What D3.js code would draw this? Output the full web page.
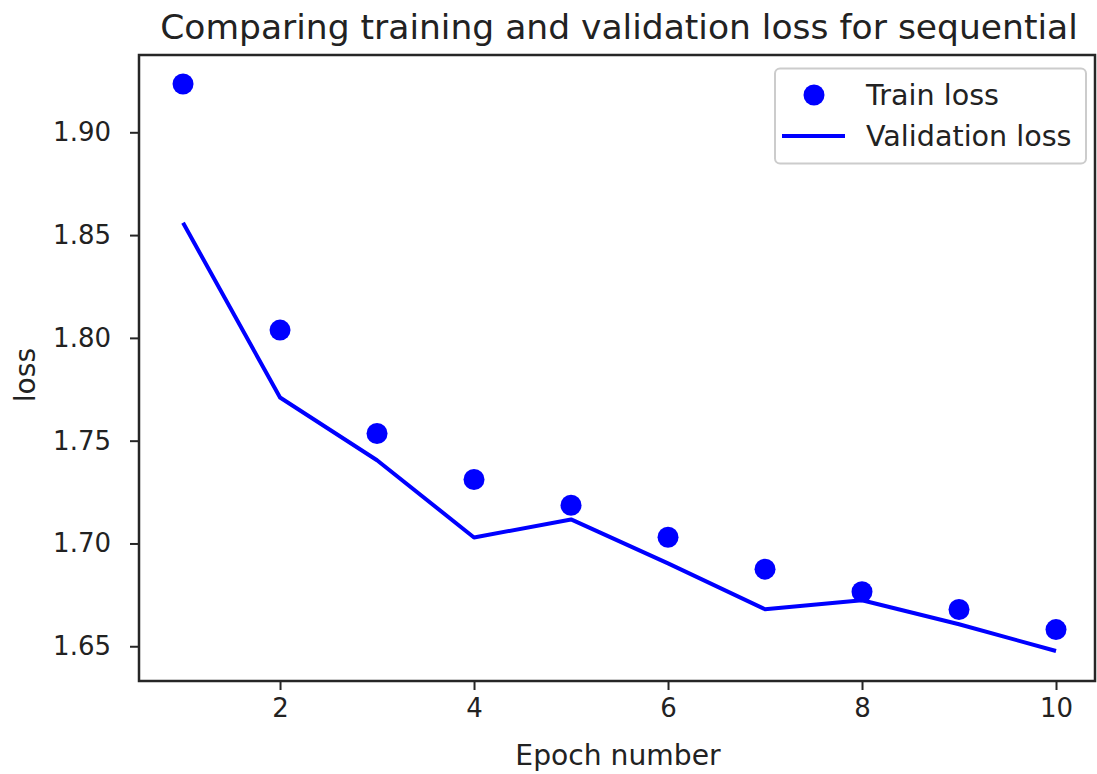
<!DOCTYPE html>
<html>
<head>
<meta charset="utf-8">
<script src="https://cdn.jsdelivr.net/npm/d3@7"></script>
<style>
  html, body { margin: 0; padding: 0; background: #fff; }
  svg { display: block; }
  text { font-family: "DejaVu Sans", sans-serif; fill: #222; }
</style>
</head>
<body>
<svg id="chart" width="1097" height="774"></svg>
<script>
// Loss per epoch
const epochs = [1, 2, 3, 4, 5, 6, 7, 8, 9, 10];
const trainLoss = [1.9235, 1.8038, 1.7535, 1.7311, 1.7186, 1.7030, 1.6875, 1.6765, 1.6679, 1.6581];
const valLoss   = [1.8560, 1.7710, 1.7405, 1.7029, 1.7117, 1.6903, 1.6680, 1.6724, 1.6607, 1.6477];
const xTicks = [2, 4, 6, 8, 10];
const yTicks = [1.65, 1.70, 1.75, 1.80, 1.85, 1.90];

const svg = d3.select("#chart");
const plot = { left: 139, top: 55, right: 1095, bottom: 681 };

const x = d3.scaleLinear().domain([0.546, 10.402]).range([plot.left, plot.right]);
const y = d3.scaleLinear().domain([1.6331, 1.9376]).range([plot.bottom, plot.top]);

const blue = "#0000ff";
const axisColor = "#262626";

// Axes
const xAxis = svg.append("g")
  .attr("transform", `translate(0,${plot.bottom})`)
  .call(d3.axisBottom(x).tickValues(xTicks).tickFormat(d3.format("d")).tickSizeInner(9).tickSizeOuter(0).tickPadding(9));
const yAxis = svg.append("g")
  .attr("transform", `translate(${plot.left},0)`)
  .call(d3.axisLeft(y).tickValues(yTicks).tickFormat(d3.format(".2f")).tickSizeInner(9).tickSizeOuter(0).tickPadding(19));

[xAxis, yAxis].forEach(g => {
  g.select(".domain").remove();
  g.selectAll(".tick line").attr("stroke", axisColor).attr("stroke-width", 2);
  g.selectAll(".tick text").attr("font-size", 26).attr("fill", "#222")
    .attr("font-family", "DejaVu Sans, sans-serif");
});

// Frame
svg.append("rect")
  .attr("x", plot.left).attr("y", plot.top)
  .attr("width", plot.right - plot.left).attr("height", plot.bottom - plot.top)
  .attr("fill", "none").attr("stroke", axisColor).attr("stroke-width", 2.5);

// Validation line
const line = d3.line().x((d, i) => x(epochs[i])).y(d => y(d));
svg.append("path")
  .datum(valLoss)
  .attr("d", line)
  .attr("fill", "none")
  .attr("stroke", blue)
  .attr("stroke-width", 4)
  .attr("stroke-linejoin", "round");

// Training points
svg.append("g").selectAll("circle")
  .data(trainLoss)
  .join("circle")
  .attr("cx", (d, i) => x(epochs[i]))
  .attr("cy", d => y(d))
  .attr("r", 10.5)
  .attr("fill", blue);

// Title and axis labels
svg.append("text")
  .attr("x", (plot.left + plot.right) / 2 + 2).attr("y", 39)
  .attr("text-anchor", "middle").attr("font-size", 34.5)
  .text("Comparing training and validation loss for sequential");

svg.append("text")
  .attr("x", (plot.left + plot.right) / 2 + 1).attr("y", 765)
  .attr("text-anchor", "middle").attr("font-size", 28.2)
  .text("Epoch number");

svg.append("text")
  .attr("transform", `translate(35,375) rotate(-90)`)
  .attr("text-anchor", "middle").attr("font-size", 28.2)
  .text("loss");

// Legend
const legend = svg.append("g");
legend.append("rect")
  .attr("x", 775).attr("y", 68.5).attr("width", 311).attr("height", 95)
  .attr("rx", 5).attr("fill", "#fff").attr("stroke", "#cccccc").attr("stroke-width", 2);
legend.append("circle").attr("cx", 814).attr("cy", 95).attr("r", 10.5).attr("fill", blue);
legend.append("line").attr("x1", 782).attr("x2", 845).attr("y1", 136).attr("y2", 136)
  .attr("stroke", blue).attr("stroke-width", 4);
legend.append("text").attr("x", 866).attr("y", 95).attr("dy", "0.35em").attr("font-size", 28.6).text("Train loss");
legend.append("text").attr("x", 866).attr("y", 136).attr("dy", "0.35em").attr("font-size", 28.6).text("Validation loss");
</script>
</body>
</html>
